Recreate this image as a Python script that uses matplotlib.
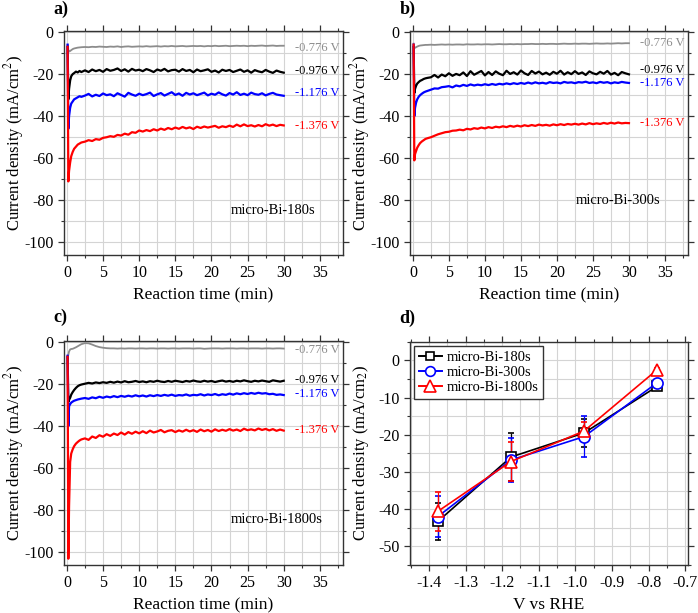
import numpy as np
import matplotlib
matplotlib.use("Agg")
import matplotlib.pyplot as plt
from matplotlib.ticker import MultipleLocator
from matplotlib.lines import Line2D

plt.rcParams['font.family'] = ['Liberation Serif', 'DejaVu Serif']
plt.rcParams['mathtext.fontset'] = 'stix'

# ---------------- data ----------------
# time grid (min)
T_early = [0.1, 0.2, 0.3, 0.45, 0.6, 0.8, 1.0, 1.25, 1.5, 1.75, 2.0]
T_late = [2.5, 3.0, 3.5, 4.0, 4.5, 5.0, 5.5, 6.0,
          6.5, 7.0, 7.5, 8.0, 8.5, 9.0, 9.5, 10.0,
          10.5, 11.0, 11.5, 12.0, 12.5, 13.0, 13.5, 14.0,
          14.5, 15.0, 15.5, 16.0, 16.5, 17.0, 17.5, 18.0,
          18.5, 19.0, 19.5, 20.0, 20.5, 21.0, 21.5, 22.0,
          22.5, 23.0, 23.5, 24.0, 24.5, 25.0, 25.5, 26.0,
          26.5, 27.0, 27.5, 28.0, 28.5, 29.0, 29.5, 30.0]
time_min = T_early + T_late

potentials = ["-0.776 V", "-0.976 V", "-1.176 V", "-1.376 V"]

# ---- panel a: micro-Bi-180s ----
a_0776 = [-6.0, -8.5, -9.3, -9.0, -8.6, -8.1, -7.8, -7.6, -7.4, -7.3, -7.2,
          -7.1, -7.2, -7.0, -7.1, -6.9, -7.0, -7.1, -6.9,
          -7.0, -6.8, -7.1, -6.9, -6.8, -7.0, -6.9, -6.8,
          -6.9, -6.7, -6.9, -6.8, -6.7, -6.9, -6.7, -6.8,
          -6.6, -6.8, -6.7, -6.6, -6.8, -6.7, -6.6, -6.7,
          -6.6, -6.8, -6.6, -6.7, -6.5, -6.7, -6.6, -6.5,
          -6.7, -6.6, -6.5, -6.6, -6.5, -6.7, -6.5, -6.6,
          -6.5, -6.4, -6.6, -6.5, -6.4, -6.6, -6.5, -6.5]
a_0976 = [-7.0, -32.0, -27.0, -23.0, -21.0, -20.0, -19.5, -18.8, -19.2, -18.5, -19.0,
          -18.2, -19.0, -17.8, -18.6, -18.0, -18.9, -17.6, -18.4,
          -18.0, -17.3, -18.5, -17.7, -18.8, -17.5, -18.3, -17.9,
          -18.6, -17.6, -18.2, -19.0, -17.8, -18.4, -17.5, -18.7,
          -18.1, -17.9, -18.8, -17.6, -18.5, -18.0, -19.1, -17.8,
          -18.6, -18.2, -17.7, -18.9, -18.3, -19.2, -17.9, -18.5,
          -18.0, -19.0, -18.4, -17.8, -18.9, -18.2, -19.3, -18.1,
          -18.7, -19.1, -18.0, -18.8, -19.4, -18.3, -18.9, -19.3]
a_1176 = [-6.0, -46.0, -40.0, -36.0, -34.0, -33.0, -32.0, -31.5, -31.0, -30.5, -30.8,
          -30.2, -29.4, -30.6, -29.8, -30.4, -29.2, -30.0, -29.6,
          -30.5, -29.1, -29.9, -30.7, -28.9, -29.7, -30.3, -29.3,
          -30.0, -29.5, -28.8, -30.4, -29.6, -29.0, -30.2, -29.4,
          -28.6, -29.9, -29.2, -30.3, -28.9, -29.7, -29.1, -30.0,
          -29.4, -28.8, -30.1, -29.3, -29.8, -28.7, -29.6, -30.2,
          -29.0, -29.7, -28.6, -29.9, -29.3, -30.0, -28.8, -29.5,
          -29.8, -29.1, -30.1, -29.4, -28.9, -29.7, -30.0, -30.3]
a_1376 = [-7.0, -71.0, -66.0, -62.0, -59.0, -57.0, -55.5, -54.5, -53.5, -53.0, -52.5,
          -52.1, -51.4, -51.8, -50.9, -51.2, -50.3, -50.0, -49.5,
          -49.8, -48.9, -49.2, -48.3, -48.8, -47.6, -47.9, -46.8,
          -47.3, -46.6, -47.1, -46.2, -46.8, -45.9, -46.5, -45.6,
          -46.2, -45.4, -46.0, -45.1, -45.8, -45.3, -46.1, -45.0,
          -45.6, -44.9, -45.4, -45.0, -44.6, -45.5, -44.8, -45.2,
          -44.5, -45.1, -44.0, -44.8, -43.9, -44.7, -44.3, -44.9,
          -44.2, -44.8, -43.8, -44.5, -44.0, -44.7, -44.1, -44.4]

# ---- panel b: micro-Bi-300s ----
b_0776 = [-5.5, -7.4, -7.5, -7.2, -6.9, -6.6, -6.4, -6.3, -6.2, -6.1, -6.1,
          -6.0, -6.1, -6.0, -5.9, -6.0, -5.9, -6.0, -5.9,
          -5.9, -6.0, -5.8, -5.9, -5.9, -5.8, -5.9, -5.8,
          -5.8, -5.9, -5.8, -5.7, -5.8, -5.8, -5.7, -5.8,
          -5.7, -5.8, -5.7, -5.7, -5.6, -5.7, -5.7, -5.6,
          -5.7, -5.6, -5.6, -5.7, -5.6, -5.5, -5.6, -5.6,
          -5.5, -5.6, -5.5, -5.5, -5.6, -5.5, -5.4, -5.5,
          -5.5, -5.4, -5.5, -5.4, -5.3, -5.4, -5.3, -5.3]
b_0976 = [-7.0, -29.0, -27.0, -25.5, -24.5, -23.8, -23.2, -22.8, -22.3, -22.0, -21.8,
          -21.5, -20.4, -21.6, -20.2, -21.0, -19.6, -20.8, -19.9,
          -20.5, -19.2, -20.9, -18.6, -20.3, -19.4, -18.5, -20.6,
          -19.0, -20.4, -18.7, -19.8, -20.5, -18.4, -19.9, -19.1,
          -20.2, -18.3, -19.6, -20.4, -18.5, -19.7, -18.8, -20.1,
          -19.3, -20.3, -18.9, -19.8, -18.4, -20.2, -19.1, -20.0,
          -18.6, -19.9, -19.2, -20.4, -18.7, -19.6, -20.1, -18.9,
          -19.8, -18.5, -20.2, -19.4, -20.5, -19.0, -19.6, -20.1]
b_1176 = [-6.0, -40.0, -36.0, -33.5, -32.0, -30.8, -30.0, -29.3, -28.7, -28.3, -28.0,
          -27.4, -26.8, -26.9, -26.2, -26.0, -25.7, -26.3, -25.4,
          -25.8, -25.1, -25.6, -24.9, -25.4, -25.0, -25.3, -24.8,
          -25.2, -24.7, -25.1, -24.6, -24.9, -24.4, -24.8, -24.3,
          -24.7, -24.2, -24.6, -24.0, -24.5, -23.9, -24.4, -24.1,
          -24.5, -23.8, -24.2, -24.0, -24.4, -23.7, -24.1, -23.9,
          -24.3, -23.8, -24.0, -23.6, -24.2, -23.9, -24.3, -23.7,
          -24.1, -23.8, -24.4, -23.9, -24.2, -23.7, -24.0, -24.2]
b_1376 = [-6.0, -61.0, -58.0, -56.5, -55.0, -53.8, -52.8, -52.0, -51.4, -50.8, -50.5,
          -50.0, -49.3, -48.6, -48.1, -47.6, -47.4, -46.9, -46.8,
          -46.4, -46.7, -46.0, -46.3, -45.7, -46.0, -45.4, -45.8,
          -45.2, -45.6, -45.0, -45.3, -44.8, -45.2, -44.6, -45.0,
          -44.5, -44.9, -44.3, -44.7, -44.2, -44.6, -44.0, -44.4,
          -44.1, -44.5, -43.9, -44.3, -43.8, -44.2, -43.7, -44.0,
          -43.6, -44.0, -43.5, -43.9, -43.3, -43.8, -43.4, -43.7,
          -43.2, -43.6, -43.1, -43.5, -43.0, -43.4, -43.2, -43.3]

# ---- panel c: micro-Bi-1800s ----
c_0776 = [-7.5, -6.0, -4.5, -3.5, -3.3, -3.2, -2.9, -2.5, -2.0, -1.5, -1.0,
          -0.5, -0.6, -1.2, -1.9, -2.4, -2.7, -2.9, -3.0,
          -3.0, -3.1, -3.0, -3.1, -3.0, -3.0, -3.1, -3.0,
          -3.0, -3.1, -3.0, -3.0, -3.1, -3.0, -3.0, -3.1,
          -3.0, -3.0, -3.1, -3.0, -3.0, -3.0, -3.1, -3.0,
          -3.0, -3.2, -3.1, -3.0, -3.0, -3.0, -3.1, -3.0,
          -3.0, -3.0, -3.1, -3.0, -3.0, -3.1, -3.0, -3.0,
          -3.0, -3.1, -3.0, -3.0, -3.1, -3.0, -3.0, -3.1]
c_0976 = [-7.0, -28.5, -27.5, -26.5, -25.0, -23.8, -22.8, -21.8, -21.0, -20.5, -20.2,
          -19.8, -19.4, -19.7, -19.2, -19.5, -19.1, -19.4, -18.9,
          -19.3, -18.8, -19.2, -18.6, -19.1, -18.9, -18.5, -19.0,
          -18.7, -19.1, -18.6, -18.9, -18.4, -18.8, -19.0, -18.5,
          -18.9, -18.4, -18.7, -19.0, -18.5, -18.8, -18.3, -18.7,
          -18.9, -18.4, -18.8, -18.5, -19.0, -18.6, -18.3, -18.8,
          -18.5, -18.9, -18.4, -18.7, -18.2, -18.6, -18.9, -18.4,
          -18.7, -18.3, -18.6, -18.9, -18.2, -18.5, -18.8, -18.4]
c_1176 = [-6.5, -40.0, -30.5, -29.5, -28.8, -28.3, -27.9, -27.6, -27.3, -27.1, -26.9,
          -26.6, -27.0, -26.3, -26.7, -26.0, -26.5, -25.9, -26.3,
          -25.7, -26.2, -25.6, -26.0, -25.5, -25.9, -25.3, -25.8,
          -25.4, -25.9, -25.3, -25.7, -25.2, -25.6, -25.1, -25.5,
          -25.0, -25.6, -25.2, -25.4, -24.9, -25.5, -25.1, -25.3,
          -24.8, -25.4, -24.9, -25.2, -24.7, -25.3, -24.8, -25.1,
          -24.5, -25.0, -24.4, -24.8, -24.3, -24.7, -24.2, -24.6,
          -24.1, -24.5, -24.3, -24.8, -24.6, -25.1, -24.9, -25.2]
c_1376 = [-7.0, -103.0, -78.0, -57.0, -53.0, -51.0, -49.5, -48.3, -47.5, -46.8, -46.3,
          -45.8, -46.5, -44.9, -45.6, -44.3, -45.0, -43.8, -44.6,
          -43.5, -44.2, -43.0, -44.0, -42.8, -43.6, -42.6, -43.4,
          -42.4, -43.3, -42.1, -43.0, -42.5, -41.8, -42.9, -42.2,
          -41.9, -42.8, -42.0, -42.6, -41.7, -42.5, -41.9, -42.7,
          -41.6, -42.4, -41.8, -42.6, -41.5, -42.3, -41.7, -42.2,
          -41.4, -42.1, -41.6, -42.3, -41.2, -41.9, -41.5, -42.0,
          -41.1, -41.8, -41.3, -42.0, -41.4, -42.2, -41.6, -42.1]

# label positions (current density at label)
a_label_y = [-7.7, -18.5, -29.2, -44.7]
b_label_y = [-5.2, -18.0, -24.0, -43.2]
c_label_y = [-3.6, -18.1, -24.9, -41.9]
sample_names = ["micro-Bi-180s", "micro-Bi-300s", "micro-Bi-1800s"]

# ---- panel d ----
V_rhe = [-1.376, -1.176, -0.976, -0.776]
d_180 = [-43.3, -26.0, -19.5, -7.0]
d_180_err = [5.0, 6.5, 3.8, 0.5]
d_300 = [-42.0, -26.8, -20.5, -6.0]
d_300_err = [5.5, 6.0, 5.5, 0.5]
d_1800 = [-40.6, -27.2, -19.0, -2.5]
d_1800_err = [5.2, 5.2, 2.5, 0.5]

# ---------------- drawing ----------------
colors = ['#8c8c8c', '#000000', '#0000ff', '#ff0000']
text_colors = ['#8c8c8c', '#000000', '#0000ff', '#ff0000']

fig = plt.figure(figsize=(6.98, 6.13), dpi=100)

W, H = 0.3997, 0.3654
ax_a = fig.add_axes([0.0917, 0.584, W, H])
ax_b = fig.add_axes([0.5874, 0.584, 0.3983, H])
ax_c = fig.add_axes([0.0917, 0.0783, W, H])
ax_d = fig.add_axes([0.5874, 0.0783, 0.3983, 0.3643])


def style_axes(ax):
    ax.grid(True, which='both', color='#d4d4d4', lw=0.8, zorder=0)
    ax.set_axisbelow(True)
    ax.tick_params(which='both', direction='out', top=True, right=True,
                   labelsize=11.5, color='#333333')
    ax.tick_params(which='major', length=4, width=0.9)
    ax.tick_params(which='minor', length=2.5, width=0.8)
    for s in ax.spines.values():
        s.set_color('#333333')
        s.set_linewidth(1.0)


panels = [
    (ax_a, [a_0776, a_0976, a_1176, a_1376], a_label_y, sample_names[0], -84.7),
    (ax_b, [b_0776, b_0976, b_1176, b_1376], b_label_y, sample_names[1], -80.2),
    (ax_c, [c_0776, c_0976, c_1176, c_1376], c_label_y, sample_names[2], -84.3),
]
for ax, curves, ly, name, ny in panels:
    style_axes(ax)
    for i, (y, col) in enumerate(zip(curves, colors)):
        ax.plot(time_min, y, color=col, lw=1.3 if i == 0 else 1.6, zorder=3)
    for lab, yy, tc in zip(potentials, ly, text_colors):
        ax.text(31.5, yy, lab, color=tc, fontsize=9, va='center', ha='left')
    ax.text(22.6, ny, name, fontsize=10.5, va='center', ha='left')
    ax.set_xlim(-0.4, 38.2)
    ax.set_ylim(-106, 0.5)
    ax.xaxis.set_major_locator(MultipleLocator(5))
    ax.xaxis.set_minor_locator(MultipleLocator(2.5))
    ax.yaxis.set_major_locator(MultipleLocator(20))
    ax.yaxis.set_minor_locator(MultipleLocator(10))
    ax.set_xlabel("Reaction time (min)", fontsize=12.5)
    ax.set_ylabel("Current density (mA/cm$^2$)", fontsize=12)
    ax.yaxis.set_label_coords(-0.135, 0.5)
    ax.set_yticks([0, -20, -40, -60, -80, -100])
    ax.set_yticklabels(["0", "-20", "-40", "-60", "-80", "-100"])

style_axes(ax_d)
series = [(d_180, d_180_err, 'k', 's', 7, sample_names[0]),
          (d_300, d_300_err, '#0000ff', 'o', 8, sample_names[1]),
          (d_1800, d_1800_err, '#ff0000', '^', 9, sample_names[2])]
handles = []
for y, e, col, m, ms, name in series:
    ax_d.errorbar(V_rhe, y, yerr=e, color=col, marker=m, ms=ms, mfc='white',
                  mec=col, mew=1.2, lw=1.2, capsize=2, elinewidth=0.9,
                  zorder=3)
    handles.append(Line2D([], [], color=col, marker=m, ms=ms - 1, mfc='white',
                          mec=col, mew=1.2, lw=1.4, label=name))
ax_d.set_xlim(-1.452, -0.692)
ax_d.set_ylim(-55, 5)
ax_d.xaxis.set_minor_locator(MultipleLocator(0.05))
ax_d.yaxis.set_minor_locator(MultipleLocator(5))
ax_d.set_xticks([-1.4, -1.3, -1.2, -1.1, -1.0, -0.9, -0.8, -0.7])
ax_d.set_xticklabels(["-1.4", "-1.3", "-1.2", "-1.1", "-1.0", "-0.9", "-0.8", "-0.7"])
ax_d.set_yticks([0, -10, -20, -30, -40, -50])
ax_d.set_yticklabels(["0", "-10", "-20", "-30", "-40", "-50"])
ax_d.set_xlabel("V vs RHE", fontsize=12.5)
ax_d.set_ylabel("Current density (mA/cm$_2$)", fontsize=12)
ax_d.yaxis.set_label_coords(-0.14, 0.5)
leg = ax_d.legend(handles=handles, loc='upper left', fontsize=10.5, frameon=True,
                  fancybox=False, edgecolor='#333333', borderaxespad=0.3,
                  handlelength=1.6, handletextpad=0.3, borderpad=0.3,
                  labelspacing=0.15, framealpha=1.0)
leg.get_frame().set_linewidth(1.0)

fig.text(0.077, 0.984, "a)", fontsize=13, fontweight='bold', va='center', ha='left')
fig.text(0.572, 0.984, "b)", fontsize=13, fontweight='bold', va='center', ha='left')
fig.text(0.077, 0.483, "c)", fontsize=13, fontweight='bold', va='center', ha='left')
fig.text(0.572, 0.481, "d)", fontsize=13, fontweight='bold', va='center', ha='left')

fig.savefig("out.png", dpi=100)
